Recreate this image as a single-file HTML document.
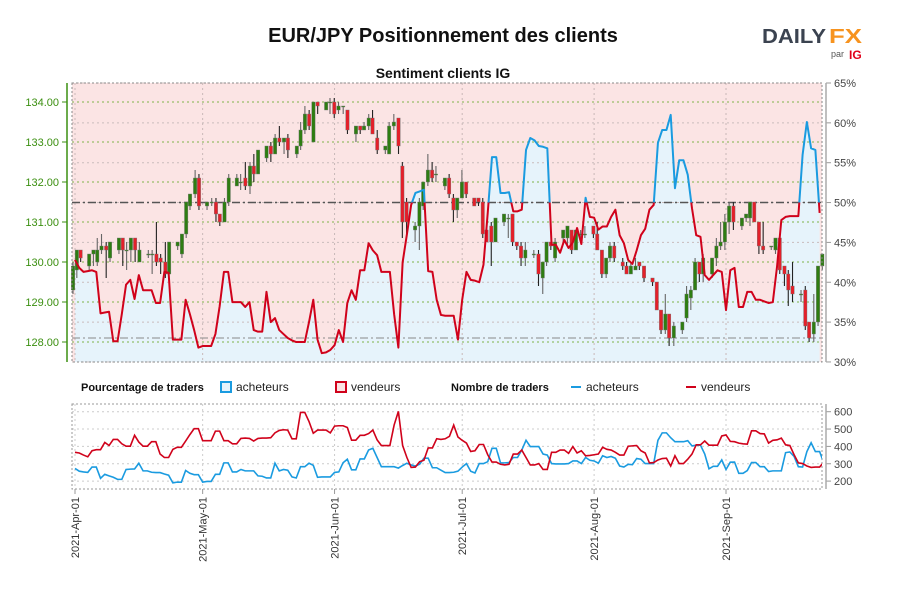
<!DOCTYPE html>
<html><head><meta charset="utf-8"><style>
body{margin:0;background:#fff;}
svg{display:block;font-family:"Liberation Sans",sans-serif;}
</style></head><body>
<svg id="chart" width="900" height="600" viewBox="0 0 900 600">
<text x="443" y="42" text-anchor="middle" font-size="20" font-weight="bold" fill="#111">EUR/JPY Positionnement des clients</text>
<g>
<text x="762" y="43" font-size="20" font-weight="bold" fill="#3b4350" textLength="64" lengthAdjust="spacingAndGlyphs">DAILY</text>
<text x="829" y="43" font-size="20" font-weight="bold" fill="#f7931e" textLength="33" lengthAdjust="spacingAndGlyphs">FX</text>
<text x="831" y="57" font-size="9" fill="#555">par</text>
<text x="849" y="59" font-size="12" font-weight="bold" fill="#e1001a">IG</text>
</g>
<text x="443" y="78" text-anchor="middle" font-size="14" font-weight="bold" fill="#111">Sentiment clients IG</text>
<defs>
<clipPath id="plotClip"><rect x="72" y="83" width="750" height="279"/></clipPath>
<clipPath id="aboveClip"><rect x="72" y="83" width="750" height="119.5"/></clipPath>
<clipPath id="belowClip"><rect x="72" y="202.5" width="750" height="160"/></clipPath>
<clipPath id="botClip"><rect x="72" y="404" width="750" height="85"/></clipPath>
</defs>
<g id="main"></g>
<g id="legend">
<text x="81" y="391" font-size="11" font-weight="bold" fill="#111">Pourcentage de traders</text>
<rect x="221" y="382" width="10" height="10" fill="#e6f3fb" stroke="#1a9be0" stroke-width="2"/>
<text x="236" y="391" font-size="12" fill="#222">acheteurs</text>
<rect x="336" y="382" width="10" height="10" fill="#fbe3e3" stroke="#d0021b" stroke-width="2"/>
<text x="351" y="391" font-size="12" fill="#222">vendeurs</text>
<text x="451" y="391" font-size="11" font-weight="bold" fill="#111">Nombre de traders</text>
<line x1="571" y1="387" x2="581" y2="387" stroke="#1a9be0" stroke-width="2"/>
<text x="586" y="391" font-size="12" fill="#222">acheteurs</text>
<line x1="686" y1="387" x2="696" y2="387" stroke="#d0021b" stroke-width="2"/>
<text x="701" y="391" font-size="12" fill="#222">vendeurs</text>
</g>
<g id="bottom"></g>
</svg>
<script>
// ---------- data ----------
const monthLabels = ["2021-Apr-01","2021-May-01","2021-Jun-01","2021-Jul-01","2021-Aug-01","2021-Sep-01"];
const monthDays = [0,30,61,91,122,153];
const priceTicks = [128,129,130,131,132,133,134];
const pctTicks = [30,35,40,45,50,55,60,65];
const countTicks = [200,300,400,500,600];
// % long per calendar day from 2021-04-01
const longPct = [42.8,41.8,41.3,41.4,41.5,41.3,36.1,36.2,36.3,32.6,32.6,36,39.7,40.3,37.9,40.9,39.0,39.0,39.0,37.4,37.4,41.3,41.2,32.8,32.8,32.8,37.8,36,34.0,31.8,32.0,32.0,32.0,33.5,37,41.3,41.3,37.5,37.5,37.5,36.9,37.5,34.0,33.8,33.8,38.8,35.0,35.5,34.0,33.5,33.0,32.7,32.5,32.5,32.5,35,37.8,32.8,31.1,31.2,31.5,32.1,34.0,32.5,37.4,39.0,37.8,41.5,41.5,44.9,44,43.4,41.3,41.3,41.3,36,31.8,42.5,46,49.7,51.2,51.4,51.6,41.4,41.3,37.8,35.9,35.8,35.8,35.8,32.8,37.8,41.3,40.3,40.2,40,42.2,48.7,55.7,55.7,51.2,51.2,51.3,48.9,48.9,49.1,56.6,58.1,57.8,57.1,57,56.8,44.7,44.7,43.7,45.3,44.3,45.0,46.8,44.8,50.6,48.2,48.1,46.6,47.0,47.0,48.2,49.1,45.9,44.9,42.8,42.3,44.0,45.9,46.7,49.1,49.7,57.5,59.1,59.1,61.0,51.8,55.3,55.3,53.5,49.3,45.9,45.7,40.9,40.3,40.9,41.5,41.3,36.5,41.5,41.8,36.9,36.9,38.8,38.8,37.8,37.8,37.6,37.4,37.5,42,47.8,48.2,48.3,48.3,48.3,56.0,60.1,56.8,56.6,48.7];
// trader counts per calendar day
const sellersCount = [366,362,350,340,375,381,381,423,405,440,440,415,401,401,464,425,401,401,427,427,356,336,336,383,395,395,431,468,502,502,433,433,433,488,488,433,433,415,415,446,448,446,431,446,448,448,450,478,492,496,494,444,444,596,596,543,476,494,494,494,478,517,519,519,509,436,436,464,464,474,494,438,405,405,405,523,602,405,336,279,281,312,320,391,391,444,440,444,458,523,454,435,419,371,375,411,411,352,310,310,297,293,297,356,356,379,336,293,293,301,267,267,366,366,379,379,360,399,362,375,346,348,352,356,395,383,379,366,350,350,401,403,405,375,362,305,307,322,330,332,287,346,301,301,326,356,409,409,431,407,407,407,460,466,429,427,419,415,413,490,490,474,472,419,435,438,448,409,405,352,305,301,287,279,281,281,310];
const buyersCount = [273,257,253,250,281,281,216,239,230,222,210,210,267,269,270,303,259,259,251,249,249,241,234,190,194,194,261,245,237,237,194,198,198,239,239,305,305,253,253,267,259,259,259,230,228,218,218,303,259,267,263,224,218,283,283,303,291,222,224,224,224,250,253,306,326,265,265,328,328,379,389,336,283,283,283,283,275,290,303,293,287,297,332,332,277,277,263,249,249,251,257,281,301,257,247,301,301,312,389,389,305,305,307,336,336,379,435,399,399,399,356,350,301,299,299,299,301,316,316,301,336,320,316,303,346,336,342,332,287,281,297,295,330,326,301,301,301,435,478,478,450,427,427,427,433,403,407,407,356,271,285,285,322,267,309,310,245,245,261,307,307,283,283,255,259,259,259,364,368,342,283,281,370,421,370,370,303];
// candles: day offset, open, close, high, low
const candleDay = [0,0.9,1.8,3.8,4.8,5.7,6.7,7.8,8.7,10.8,11.7,12.6,13.6,14.6,15.6,17.7,18.6,19.6,20.6,21.7,22.6,24.6,25.6,26.6,27.5,28.7,29.6,31.5,32.6,33.6,34.5,35.6,36.6,38.5,39.4,40.5,41.6,42.5,43.5,45.5,46.5,47.5,48.5,49.6,50.5,52.6,53.5,54.5,55.5,56.5,57.5,59.5,60.4,61.4,62.4,63.5,64.5,66.5,67.5,68.4,69.5,70.4,71.5,73.4,74.3,75.4,76.5,77.4,78.4,80.4,81.4,82.3,83.4,84.4,85.3,87.4,88.4,89.4,90.3,91.4,92.4,94.3,95.3,96.3,97.2,98.3,99.3,101.3,102.3,103.3,104.3,105.3,106.3,108.3,109.4,110.4,111.3,112.3,113.3,115.2,116.2,117.2,118.2,119.3,120.3,122.3,123.2,124.3,125.3,126.2,127.2,129.2,130.1,131.1,132.2,133.1,134.2,136.2,137.2,138.2,139.2,140.1,141.2,143.2,144.2,145.2,146.2,147.2,148.1,150.2,151.2,152.2,153.2,154.2,155.2,157.2,158.2,159.1,160.1,161.2,162.2,164.1,165.1,166.1,167.2,168.1,169.1,171.1,172.1,173.0,174.1,175.1,176.1];
const candleOpen = [129.3,129.8,130.3,129.9,130.2,130.0,130.3,130.4,130.1,130.3,130.6,130.3,130.3,130.6,130.0,130.2,130.2,130.2,130.1,130.0,129.7,130.4,130.2,130.7,131.4,131.7,132.1,131.4,131.5,131.5,131.2,131.0,131.5,131.9,132.0,132.1,131.9,132.4,132.2,132.6,132.9,132.7,133.1,133.0,133.1,132.7,132.9,133.3,133.7,133.0,134.0,133.8,134.0,134.0,133.8,133.9,133.8,133.2,133.4,133.3,133.4,133.6,133.1,132.8,132.7,133.4,133.6,132.4,131.5,130.8,130.9,131.4,132.0,132.3,132.2,131.9,132.1,131.6,131.3,131.6,132.0,131.6,131.6,131.5,130.8,130.9,130.5,131.0,131.1,131.2,130.5,130.4,130.1,130.2,130.2,129.6,130.0,130.5,130.1,130.6,130.6,130.8,130.3,130.7,130.7,130.9,130.7,130.3,129.7,130.1,130.4,130.0,129.9,129.7,129.8,130.0,129.9,129.6,129.5,128.8,128.3,128.7,128.1,128.3,128.6,129.1,129.3,130.0,129.7,129.7,130.1,130.4,130.5,131.0,131.4,130.9,131.1,131.1,131.5,131.0,130.4,130.4,130.3,130.6,129.9,129.7,129.4,129.2,129.3,128.5,128.2,128.5,129.9];
const candleClose = [129.9,130.3,130.1,130.2,130.3,130.3,130.4,130.3,130.5,130.6,130.3,130.3,130.6,130.3,130.3,130.2,130.2,130.0,130.0,129.7,130.5,130.5,130.7,131.5,131.7,132.1,131.4,131.5,131.5,131.2,131.0,131.5,132.1,132.1,132.0,131.9,132.4,132.2,132.8,132.9,132.7,133.1,133.0,133.1,132.8,132.9,133.3,133.7,133.4,134.0,133.9,134.0,134.0,133.7,133.9,133.9,133.3,133.4,133.3,133.4,133.6,133.2,132.8,132.9,133.4,133.5,132.9,131.0,131.0,130.9,131.5,132.0,132.3,132.1,132.2,132.1,131.7,131.3,131.6,132.0,131.7,131.4,131.5,130.7,130.5,130.5,131.1,131.2,131.1,130.5,130.4,130.1,130.3,130.2,129.7,130.0,130.5,130.4,130.5,130.8,130.9,130.3,130.8,130.7,130.7,130.7,130.3,129.7,130.1,130.4,130.1,129.9,129.7,129.9,129.9,129.9,129.6,129.5,128.8,128.3,128.7,128.1,128.4,128.5,129.2,129.3,130.0,129.7,130.1,130.1,130.4,130.5,131.0,131.4,131.0,131.1,131.2,131.5,131.0,130.4,130.3,130.4,130.6,129.8,129.7,129.3,129.2,129.2,128.4,128.1,128.5,129.9,130.2];
const candleHigh = [130.0,130.3,130.3,130.2,130.3,130.6,130.7,130.5,130.5,130.6,130.6,130.5,130.6,130.6,130.5,130.3,130.3,131.0,130.2,130.5,130.5,130.5,130.7,131.5,131.7,132.3,132.2,131.5,131.6,131.6,131.2,131.6,132.2,132.2,132.2,132.5,132.5,132.7,132.8,132.9,133.0,133.2,133.4,133.1,133.2,132.9,133.5,133.9,133.8,134.0,134.0,134.0,134.1,134.1,134.0,133.9,133.8,133.4,133.4,133.5,133.7,133.8,133.3,132.9,133.5,133.7,133.6,132.5,131.6,131.0,131.6,132.0,132.7,132.5,132.4,132.1,132.2,131.7,131.6,132.3,132.0,131.6,131.6,131.6,130.9,131.0,131.1,131.2,131.2,131.2,130.5,130.5,130.5,130.3,130.3,130.0,130.5,130.5,130.6,130.8,130.9,130.8,130.8,130.8,130.9,130.9,131.0,130.3,130.1,130.5,130.5,130.1,130.0,130.0,130.1,130.0,129.9,129.6,129.5,128.8,129.2,128.7,128.5,128.5,129.4,129.4,130.1,130.0,130.2,130.1,130.6,131.0,131.2,131.5,131.5,131.1,131.2,131.5,131.5,131.0,131.0,130.4,130.6,130.6,129.9,129.8,130.0,129.3,129.4,128.5,129.2,129.9,130.2];
const candleLow = [129.2,129.6,130.0,129.8,129.9,129.9,130.2,129.6,130.0,130.2,129.9,129.8,130.0,130.0,130.0,130.1,129.7,129.9,129.7,129.6,129.7,130.3,130.1,130.6,131.3,131.6,131.3,131.3,131.4,131.0,130.9,131.0,131.4,131.9,131.8,131.8,131.7,132.0,132.2,132.5,132.5,132.7,132.9,132.7,132.6,132.6,132.8,133.2,133.3,133.0,133.7,133.8,133.7,133.6,133.7,133.7,133.2,133.0,133.2,133.3,133.3,133.2,132.7,132.7,132.7,133.3,132.7,130.6,130.7,130.5,130.3,131.3,131.9,132.0,132.0,131.8,131.6,131.0,131.1,131.6,131.6,131.4,131.4,130.6,130.5,129.9,130.5,130.9,130.6,130.4,130.3,129.9,129.9,130.1,129.4,129.2,129.9,130.3,130.0,130.5,130.4,130.2,130.3,130.5,130.6,130.6,130.3,129.6,129.6,130.0,130.0,129.8,129.7,129.7,129.8,129.8,129.5,129.4,128.8,128.2,128.2,127.9,127.9,128.2,128.5,128.8,129.3,129.5,129.5,129.6,129.9,130.3,130.3,130.7,130.8,130.8,131.0,130.9,131.0,130.2,130.2,130.3,130.2,129.7,129.4,128.9,129.0,129.0,128.3,128.0,128.0,128.4,129.8];

// ---------- scales ----------
const NS = "http://www.w3.org/2000/svg";
const X0 = 75, PXD = 4.255;
function xScale(d){ return X0 + d*PXD; }
function yPrice(p){ return 102 + (134-p)*40; }
function yPct(v){ return 83 + (65-v)*7.97; }
function yCount(v){ return 411.7 + (600-v)*0.1735; }
function mk(parent, tag, attrs){
  const el = document.createElementNS(NS, tag);
  for (const k in attrs) el.setAttribute(k, attrs[k]);
  parent.appendChild(el);
  return el;
}
const main = document.getElementById('main');
const bottom = document.getElementById('bottom');

let bg = mk(main,'rect',{x:72,y:83,width:750,height:279,fill:'#fbe4e4'});



let areaD = 'M'+xScale(0)+','+yPct(30);
longPct.forEach((v,i)=>{ areaD += ' L'+xScale(i)+','+yPct(v); });
areaD += ' L'+xScale(longPct.length-1)+','+yPct(30)+' Z';
let area = mk(main,'path',{d:areaD,fill:'#e6f3fb','clip-path':'url(#plotClip)'});



pctTicks.forEach(v=>{
  const y = yPct(v);
  let g = mk(main,'line',{x1:72,x2:822,y1:y,y2:y,stroke:'#c9bcbc','stroke-dasharray':'2,3','stroke-width':1});
  
  
  let t = mk(main,'line',{x1:826,x2:831,y1:y,y2:y,stroke:'#999'});
  
  
  let l = mk(main,'text',{x:834,y:y+4,'font-size':11,fill:'#444'});
  l.textContent = v+'%';
  
  
});
priceTicks.forEach(v=>{
  const y = yPrice(v);
  let g = mk(main,'line',{x1:72,x2:822,y1:y,y2:y,stroke:'#7fb34a','stroke-dasharray':'2,3','stroke-width':1});
  
  
  let t = mk(main,'line',{x1:62,x2:67,y1:y,y2:y,stroke:'#3b8f10'});
  
  
  let l = mk(main,'text',{x:59,y:y+4,'font-size':11,fill:'#3b8f10','text-anchor':'end'});
  l.textContent = v.toFixed(2);
  
  
});
monthDays.forEach((d,i)=>{
  const x = xScale(d);
  let g = mk(main,'line',{x1:x,x2:x,y1:83,y2:362,stroke:'#c8b8b8','stroke-dasharray':'2,3'});
  
  
  let g2 = mk(bottom,'line',{x1:x,x2:x,y1:404,y2:489,stroke:'#ccc','stroke-dasharray':'2,3'});
  
  
  let t = mk(bottom,'line',{x1:x,x2:x,y1:489,y2:494,stroke:'#999'});
  
  
  let l = mk(bottom,'text',{x:0,y:0,'font-size':11,fill:'#333','text-anchor':'end',transform:'translate('+(x+4)+',497) rotate(-90)'});
  l.textContent = monthLabels[i];
  
  
});

let ref50 = mk(main,'line',{x1:72,x2:822,y1:yPct(50),y2:yPct(50),stroke:'#555','stroke-width':1.5,'stroke-dasharray':'8,3,2,3'});


let lastP = mk(main,'line',{x1:72,x2:822,y1:yPrice(128.1),y2:yPrice(128.1),stroke:'#888','stroke-width':1,'stroke-dasharray':'8,3,2,3'});



candleDay.forEach((d,i)=>{
  const x = xScale(d) - 2;
  const o = candleOpen[i], c = candleClose[i];
  const up = c >= o;
  let w = mk(main,'line',{x1:x,x2:x,y1:yPrice(candleHigh[i]),y2:yPrice(candleLow[i]),stroke:up?'#666':'#222','stroke-width':1.1});
  
  
  const top = yPrice(Math.max(o,c)), bot = yPrice(Math.min(o,c));
  let b = mk(main,'rect',{x:x-1.7,y:top,width:3.4,height:Math.max(1,bot-top),fill:up?'#2e7d12':'#e3202a',stroke:'#777','stroke-width':0.4});
  
  
});

let lineD = '';
longPct.forEach((v,i)=>{ lineD += (i?' L':'M')+xScale(i)+','+yPct(v); });
let lb = mk(main,'path',{d:lineD,fill:'none',stroke:'#1a9be0','stroke-width':2,'stroke-linejoin':'round','clip-path':'url(#aboveClip)'});


let lr = mk(main,'path',{d:lineD,fill:'none',stroke:'#d0021b','stroke-width':2,'stroke-linejoin':'round','clip-path':'url(#belowClip)'});



let fr = mk(main,'rect',{x:72,y:83,width:750,height:279,fill:'none',stroke:'#888','stroke-dasharray':'2,2'});


let la = mk(main,'line',{x1:67,x2:67,y1:83,y2:362,stroke:'#3b8f10','stroke-width':1.5});


let ra = mk(main,'line',{x1:826,x2:826,y1:83,y2:362,stroke:'#aaa','stroke-width':1.5});



countTicks.forEach(v=>{
  const y = yCount(v);
  let g = mk(bottom,'line',{x1:72,x2:822,y1:y,y2:y,stroke:'#ccc','stroke-dasharray':'2,3'});
  
  
  let t = mk(bottom,'line',{x1:826,x2:831,y1:y,y2:y,stroke:'#999'});
  
  
  let l = mk(bottom,'text',{x:834,y:y+4,'font-size':11,fill:'#444'});
  l.textContent = v;
  
  
});
let bfr = mk(bottom,'rect',{x:72,y:404,width:750,height:85,fill:'none',stroke:'#999','stroke-dasharray':'2,2'});


let bra = mk(bottom,'line',{x1:826,x2:826,y1:404,y2:489,stroke:'#aaa','stroke-width':1.5});


let sD='', bD='';
sellersCount.forEach((v,i)=>{ sD += (i?' L':'M')+xScale(i)+','+yCount(v); });
buyersCount.forEach((v,i)=>{ bD += (i?' L':'M')+xScale(i)+','+yCount(v); });
let bl = mk(bottom,'path',{d:bD,fill:'none',stroke:'#1a9be0','stroke-width':1.6,'clip-path':'url(#botClip)'});


let sl = mk(bottom,'path',{d:sD,fill:'none',stroke:'#d0021b','stroke-width':1.6,'clip-path':'url(#botClip)'});


</script>
</body></html>
